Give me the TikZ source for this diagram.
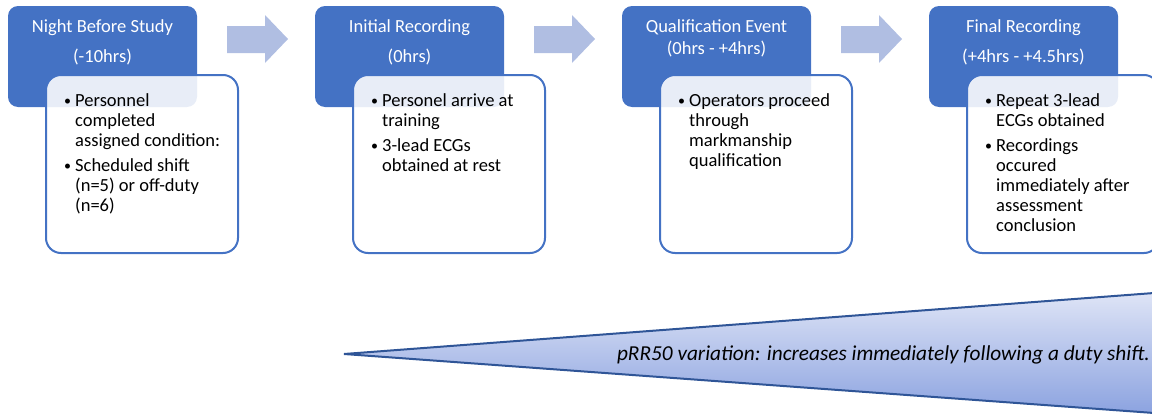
\documentclass[tikz,border=0pt]{standalone}
\usepackage{fontspec}
\setmainfont{Carlito}
\begin{document}
\begin{tikzpicture}[x=1pt,y=-1pt,
  hdr/.style={fill=hblue, rounded corners=10pt},
  card/.style={draw=hblue, line width=2pt, fill=white, fill opacity=0.88, rounded corners=15pt},
  hdrtext/.style={anchor=north, text=white, inner sep=0pt},
  bodytext/.style={anchor=north west, inner sep=0pt},
  flowarrow/.style={fill=ablue, draw=none}]
\definecolor{hblue}{HTML}{4472C4}
\definecolor{ablue}{HTML}{B0BEE2}
\definecolor{tborder}{HTML}{2F5597}
\definecolor{ttop}{HTML}{DEE4F6}
\definecolor{tbot}{HTML}{8CA3E0}
\useasboundingbox (0,0) rectangle (1152,415);
\newcommand{\bul}{\makebox[11pt][l]{\raisebox{1.2pt}{\fontsize{14}{14}\selectfont\textbullet}}}
\newcommand{\hdtab}[2]{\fontsize{18.5}{#1}\selectfont\begin{tabular}[t]{@{}c@{}}#2\end{tabular}}
\newcommand{\bdtab}[1]{\fontsize{18.5}{20}\selectfont\begin{tabular}[t]{@{}l@{}l@{}}#1\end{tabular}}
% boxes
\foreach \xo/\nm in {8/a,315/b,622/c,929/d}{
  \path[hdr] (\xo,6) rectangle ++(189,101);
  \path[card] (\xo+38,75) rectangle ++(192,178);
  \coordinate (h\nm) at (\xo+94.5,11);
  \coordinate (t\nm) at (\xo+56,92);
}
\node[hdrtext] (ha1) at (ha) {\hdtab{30}{Night Before Study\\(-10hrs)}};
\node[hdrtext] (hb1) at (hb) {\hdtab{30}{Initial Recording\\(0hrs)}};
\node[hdrtext] (hc1) at ([yshift=-5.6pt]hc) {\hdtab{22}{Qualification Event\\(0hrs - +4hrs)}};
\node[hdrtext] (hd1) at (hd) {\hdtab{30}{Final Recording\\(+4hrs - +4.5hrs)}};
\node[bodytext] (ba1) at (ta) {\bdtab{\bul & Personnel\\ & completed\\ & assigned condition:\\[5pt] \bul & Scheduled shift\\ & (n=5) or off-duty\\ & (n=6)}};
\node[bodytext] (bb1) at (tb) {\bdtab{\bul & Personel arrive at\\ & training\\[5pt] \bul & 3-lead ECGs\\ & obtained at rest}};
\node[bodytext] (bc1) at (tc) {\bdtab{\bul & Operators proceed\\ & through\\ & markmanship\\ & qualification}};
\node[bodytext] (bd1) at (td) {\bdtab{\bul & Repeat 3-lead\\ & ECGs obtained\\[5pt] \bul & Recordings\\ & occured\\ & immediately after\\ & assessment\\ & conclusion}};
% arrows
\foreach \xo in {227,534,841}{
  \path[flowarrow] (\xo,26) -- (\xo+38,26) -- (\xo+38,15) -- (\xo+61,39) -- (\xo+38,63) -- (\xo+38,53) -- (\xo,53) -- cycle;
}
% triangle
\coordinate (tl) at (344,354);
\coordinate (tt) at (1154,293);
\coordinate (tbm) at (1154,413);
\shade[top color=ttop, bottom color=tbot] (tl) -- (tt) -- (tbm) -- cycle;
\draw[tborder, line width=2pt, line join=miter] (tt) -- (tl) -- (tbm);
\node[anchor=base east, inner sep=0pt, font=\fontsize{21.3}{24}\selectfont\itshape] (tri) at (1150,360) {pRR50 variation: increases immediately following a duty shift.};
\end{tikzpicture}
\end{document}
